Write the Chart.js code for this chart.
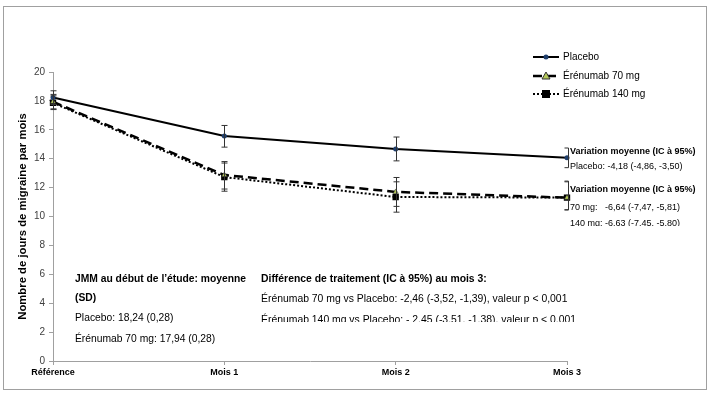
<!DOCTYPE html>
<html>
<head>
<meta charset="utf-8">
<script src="https://cdn.jsdelivr.net/npm/chart.js@4"></script>
<style>
  html, body { margin: 0; padding: 0; background: #fff; }
  #wrap { position: relative; width: 713px; height: 396px; }
</style>
</head>
<body>
<div id="wrap"><canvas id="myChart" width="713" height="396"></canvas></div>
<script>
// Kategorien (x-Achse)
const categories = ['Référence', 'Mois 1', 'Mois 2', 'Mois 3'];

// Mittelwerte je Gruppe (Tage mit Migräne pro Monat)
const placebo = [18.24, 15.57, 14.67, 14.06];
const erenumab70 = [17.94, 12.87, 11.70, 11.30];
const erenumab140 = [17.87, 12.73, 11.35, 11.31];

// Fehlerbalken (untere / obere Grenze)
const placeboLow = [17.75, 14.80, 13.85, 13.38];
const placeboHigh = [18.70, 16.30, 15.50, 14.74];
const erenumab70Low = [17.45, 11.90, 10.70, 10.47];
const erenumab70High = [18.45, 13.80, 12.70, 12.45];
const erenumab140Low = [17.40, 11.75, 10.30, 10.45];
const erenumab140High = [18.35, 13.70, 12.40, 12.40];

// y-Achse
const yMin = 0;
const yMax = 20;
const yStep = 2;

// Texte
const legendLabels = ['Placebo', 'Érénumab 70 mg', 'Érénumab 140 mg'];
const variationNotes = [
    { text: 'Variation moyenne (IC à 95%)', bold: true },
    { text: 'Placebo: -4,18 (-4,86, -3,50)', bold: false },
    { text: 'Variation moyenne (IC à 95%)', bold: true },
    { text: '70 mg:   -6,64 (-7,47, -5,81)', bold: false },
    { text: '140 mg: -6,63 (-7,45, -5,80)', bold: false }
];
const baselineNotes = [
    { text: 'JMM au début de l\u2019étude: moyenne', bold: true },
    { text: '(SD)', bold: true },
    { text: 'Placebo: 18,24 (0,28)', bold: false },
    { text: 'Érénumab 70 mg: 17,94 (0,28)', bold: false }
];
const diffNotes = [
    { text: 'Différence de traitement (IC à 95%) au mois 3:', bold: true },
    { text: 'Érénumab 70 mg vs Placebo: -2,46 (-3,52, -1,39), valeur p < 0,001', bold: false },
    { text: 'Érénumab 140 mg vs Placebo: - 2,45 (-3,51, -1,38), valeur p < 0,001', bold: false }
];

const FONT = '"Liberation Sans", Arial, sans-serif';

// Fehlerbalken zeichnen
const errorBarPlugin = {
    id: 'errorBars',
    afterDatasetsDraw(chart) {
        const ctx = chart.ctx;
        const yScale = chart.scales.y;
        ctx.save();
        ctx.strokeStyle = '#333';
        ctx.lineWidth = 1;
        chart.data.datasets.forEach((ds, i) => {
            const meta = chart.getDatasetMeta(i);
            meta.data.forEach((pt, j) => {
                const yLo = yScale.getPixelForValue(ds.errLow[j]);
                const yHi = yScale.getPixelForValue(ds.errHigh[j]);
                const last = j === meta.data.length - 1;
                const x = Math.round(pt.x) + (last ? 1.5 : 0.5);
                ctx.beginPath();
                ctx.moveTo(x, yLo);
                ctx.lineTo(x, yHi);
                if (last) {
                    ctx.moveTo(x - 4, yLo); ctx.lineTo(x, yLo);
                    ctx.moveTo(x - 4, yHi); ctx.lineTo(x, yHi);
                } else {
                    ctx.moveTo(x - 3, yLo); ctx.lineTo(x + 3, yLo);
                    ctx.moveTo(x - 3, yHi); ctx.lineTo(x + 3, yHi);
                }
                ctx.stroke();
            });
        });
        ctx.restore();
    }
};

function drawLines(ctx, lines, x, ys, size, clipBottom) {
    ctx.save();
    if (clipBottom) {
        ctx.beginPath();
        ctx.rect(0, 0, 713, clipBottom);
        ctx.clip();
    }
    ctx.textBaseline = 'middle';
    ctx.textAlign = 'left';
    ctx.fillStyle = '#000';
    lines.forEach((l, i) => {
        ctx.font = (l.bold ? 'bold ' : '') + size + 'px ' + FONT;
        ctx.fillText(l.text, x, ys[i]);
    });
    ctx.restore();
}

// Rahmen, Legende und Textblöcke
const decorPlugin = {
    id: 'decor',
    beforeDraw(chart) {
        const ctx = chart.ctx;
        ctx.save();
        ctx.fillStyle = '#fff';
        ctx.fillRect(0, 0, 713, 396);
        ctx.strokeStyle = '#a0a0a0';
        ctx.lineWidth = 1;
        ctx.strokeRect(3.5, 6.5, 703, 383);
        ctx.restore();
    },
    afterDraw(chart) {
        const ctx = chart.ctx;
        // Legende
        ctx.save();
        ctx.beginPath();
        ctx.rect(0, 0, 713, 99);
        ctx.clip();
        const ys = [57, 76, 94];
        chart.data.datasets.forEach((ds, i) => {
            const y = ys[i];
            ctx.strokeStyle = '#000';
            ctx.lineWidth = ds.borderWidth;
            ctx.setLineDash(ds.borderDash || []);
            ctx.beginPath();
            ctx.moveTo(533, y);
            ctx.lineTo(559, y);
            ctx.stroke();
            ctx.setLineDash([]);
            ctx.fillStyle = ds.pointBackgroundColor;
            ctx.strokeStyle = ds.pointBorderColor;
            ctx.lineWidth = 1;
            const cx = 546;
            if (ds.pointStyle === 'rect') {
                ctx.fillRect(cx - 4, y - 4, 8, 8);
            } else if (ds.pointStyle === 'triangle') {
                ctx.beginPath();
                ctx.moveTo(cx, y - 4);
                ctx.lineTo(cx + 4, y + 3);
                ctx.lineTo(cx - 4, y + 3);
                ctx.closePath();
                ctx.fill();
                ctx.stroke();
            } else {
                ctx.beginPath();
                ctx.arc(cx, y, 2.5, 0, Math.PI * 2);
                ctx.fill();
            }
            ctx.fillStyle = '#000';
            ctx.font = '10px ' + FONT;
            ctx.textBaseline = 'middle';
            ctx.fillText(legendLabels[i], 563, y);
        });
        ctx.restore();

        drawLines(ctx, variationNotes, 570, [152, 167, 190, 208, 224], 9, 226);
        drawLines(ctx, baselineNotes, 75, [279, 298, 318, 339], 10.3);
        drawLines(ctx, diffNotes, 261, [279, 299, 320], 10.4, 322);
    }
};

const ctx = document.getElementById('myChart').getContext('2d');
const myChart = new Chart(ctx, {
    type: 'line',
    data: {
        labels: categories,
        datasets: [
            {
                label: legendLabels[0],
                data: placebo,
                errLow: placeboLow,
                errHigh: placeboHigh,
                borderColor: '#000',
                borderWidth: 2,
                pointStyle: 'circle',
                pointRadius: 2.5,
                pointBackgroundColor: '#1f3f6e',
                pointBorderColor: '#1f3f6e',
                pointBorderWidth: 0,
                fill: false,
                tension: 0
            },
            {
                label: legendLabels[1],
                data: erenumab70,
                errLow: erenumab70Low,
                errHigh: erenumab70High,
                borderColor: '#000',
                borderWidth: 2.5,
                borderDash: [9, 5],
                pointStyle: 'triangle',
                pointRadius: 3,
                pointBackgroundColor: '#b5c95a',
                pointBorderColor: '#333',
                pointBorderWidth: 0.5,
                fill: false,
                tension: 0
            },
            {
                label: legendLabels[2],
                data: erenumab140,
                errLow: erenumab140Low,
                errHigh: erenumab140High,
                borderColor: '#000',
                borderWidth: 2,
                borderDash: [2, 2],
                pointStyle: 'rect',
                pointRadius: 4.5,
                pointBackgroundColor: '#000',
                pointBorderColor: '#000',
                pointBorderWidth: 0,
                fill: false,
                tension: 0
            }
        ]
    },
    options: {
        responsive: false,
        animation: false,
        layout: { padding: { left: 0, top: 72, right: 146, bottom: 0 } },
        scales: {
            x: {
                type: 'category',
                offset: false,
                grid: { drawOnChartArea: false, drawTicks: true, tickLength: 4, color: '#a0a0a0' },
                border: { color: '#a0a0a0' },
                ticks: {
                    font: { family: FONT, size: 9, weight: 'bold' },
                    color: '#000',
                    padding: 2,
                    maxRotation: 0
                },
                afterFit: (scale) => { scale.height = 35; }
            },
            y: {
                min: yMin,
                max: yMax,
                grid: { drawOnChartArea: false, drawTicks: true, tickLength: 4, color: '#a0a0a0' },
                border: { color: '#a0a0a0' },
                ticks: {
                    stepSize: yStep,
                    font: { family: FONT, size: 10 },
                    color: '#404040',
                    padding: 4
                },
                title: {
                    display: true,
                    text: 'Nombre de jours de migraine par mois',
                    font: { family: FONT, size: 11.3, weight: 'bold' },
                    color: '#000',
                    padding: { top: 16, bottom: 0 }
                },
                afterFit: (scale) => { scale.width = 53; }
            }
        },
        plugins: {
            legend: { display: false },
            tooltip: { enabled: false }
        }
    },
    plugins: [decorPlugin, errorBarPlugin]
});
</script>
</body>
</html>
